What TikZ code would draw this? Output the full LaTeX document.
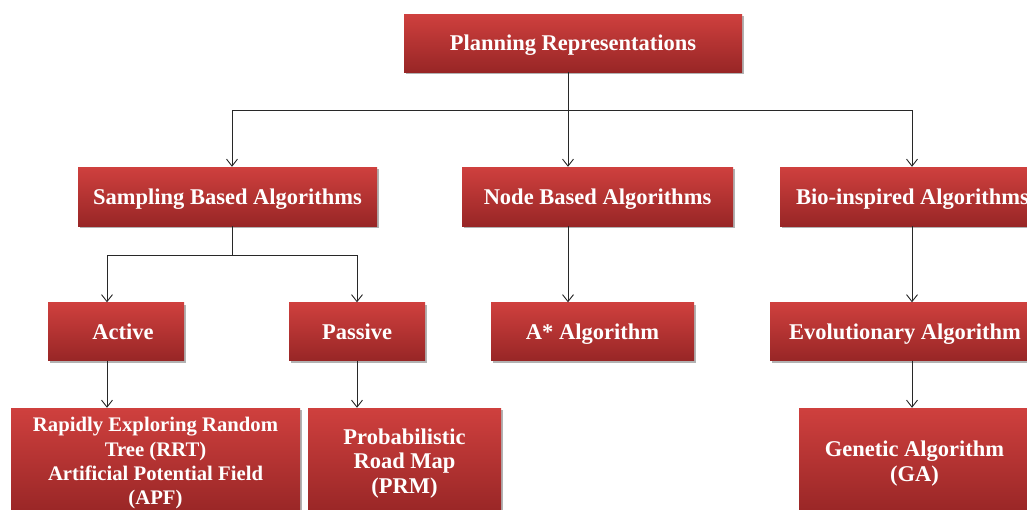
\documentclass[tikz,border=0pt]{standalone}
\usepackage{fontspec}
\setmainfont{Liberation Serif}
\usetikzlibrary{arrows.meta,shadows}
\definecolor{rtop}{RGB}{207,64,62}
\definecolor{rbot}{RGB}{152,38,38}
\definecolor{lnk}{RGB}{40,40,40}
\begin{document}
\begin{tikzpicture}[x=1pt,y=-1pt,
  box/.style={rectangle, inner sep=0pt, top color=rtop, bottom color=rbot,
    text=white, font=\fontsize{22.5}{24.5}\selectfont\bfseries, align=center, text depth=0pt,
    drop shadow={shadow xshift=1.5pt, shadow yshift=-2pt, opacity=0.3, fill=black}},
  conn/.style={draw=lnk, line width=0.9pt},
  arr/.style={conn, -{Straight Barb[length=7pt,width=11pt]}}]
\useasboundingbox (0,0) rectangle (1027,509);
\clip (0,0) rectangle (1027,509);
\fill[white] (0,0) rectangle (1027,509);
% level 0
\node[box, minimum width=338pt, minimum height=58pt] (top) at (573,43) {Planning Representations};
% level 1
\node[box, minimum width=299pt, minimum height=59pt] (samp) at (227.5,196.5) {Sampling Based Algorithms};
\node[box, minimum width=271pt, minimum height=59pt] (nb) at (597.5,196.5) {Node Based Algorithms};
\node[box, minimum width=265pt, minimum height=59pt] (bio) at (912.5,196.5) {Bio-inspired Algorithms};
% level 2
\node[box, minimum width=136pt, minimum height=58pt] (act) at (116,331.5) {\hspace*{14pt}Active};
\node[box, minimum width=136pt, minimum height=58pt] (pas) at (357,331.5) {Passive};
\node[box, minimum width=203pt, minimum height=58pt] (ast) at (592.5,331.5) {A* Algorithm};
\node[box, minimum width=270pt, minimum height=58pt] (evo) at (905,331.5) {Evolutionary Algorithm};
% level 3
\node[box, minimum width=289pt, minimum height=106pt, font=\fontsize{20.7}{24.3}\selectfont\bfseries] (rrt) at (155.5,461) {Rapidly Exploring Random\\Tree (RRT)\\Artificial Potential Field\\(APF)};
\node[box, minimum width=193pt, minimum height=106pt] (prm) at (404.5,461) {Probabilistic\\Road Map\\(PRM)};
\node[box, minimum width=231pt, minimum height=106pt] (ga) at (914.5,461) {Genetic Algorithm\\(GA)};
% junctions
\coordinate (j0) at (568,110);
\coordinate (jl) at (232,110);
\coordinate (jr) at (912,110);
\coordinate (j1) at (232,255);
\coordinate (j1l) at (107,255);
\coordinate (j1r) at (357,255);
% connectors
\draw[conn] (j0 |- top.south) -- (j0);
\draw[conn] (jl) -- (jr);
\draw[arr] (jl) -- (jl |- samp.north);
\draw[arr] (j0) -- (j0 |- nb.north);
\draw[arr] (jr) -- (jr |- bio.north);
\draw[conn] (j1 |- samp.south) -- (j1);
\draw[conn] (j1l) -- (j1r);
\draw[arr] (j1l) -- (j1l |- act.north);
\draw[arr] (j1r) -- (j1r |- pas.north);
\draw[arr] (j0 |- nb.south) -- (j0 |- ast.north);
\draw[arr] (jr |- bio.south) -- (jr |- evo.north);
\draw[arr] (j1l |- act.south) -- (j1l |- rrt.north);
\draw[arr] (j1r |- pas.south) -- (j1r |- prm.north);
\draw[arr] (jr |- evo.south) -- (jr |- ga.north);
\end{tikzpicture}
\end{document}
